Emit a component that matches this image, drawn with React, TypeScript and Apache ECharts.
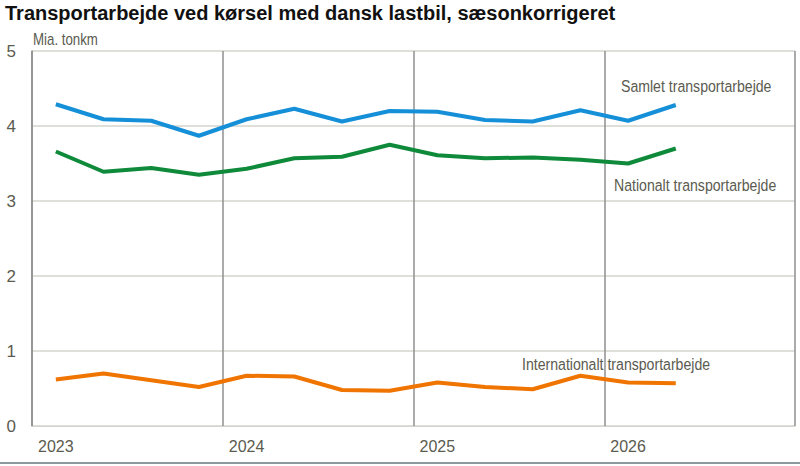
import React, { useRef, useEffect } from "react";
import * as echarts from "echarts";

const quarters = [
  "2023K1", "2023K2", "2023K3", "2023K4",
  "2024K1", "2024K2", "2024K3", "2024K4",
  "2025K1", "2025K2", "2025K3", "2025K4",
  "2026K1", "2026K2", "2026K3", "2026K4",
];
const samlet = [4.29, 4.09, 4.07, 3.87, 4.09, 4.23, 4.06, 4.2, 4.19, 4.08, 4.06, 4.21, 4.07, 4.28];
const nationalt = [3.66, 3.39, 3.44, 3.35, 3.43, 3.57, 3.59, 3.75, 3.61, 3.57, 3.58, 3.55, 3.5, 3.7];
const internationalt = [0.62, 0.7, 0.61, 0.52, 0.67, 0.66, 0.48, 0.47, 0.58, 0.52, 0.49, 0.67, 0.58, 0.57];
const seriesNames = ["Samlet transportarbejde", "Nationalt transportarbejde", "Internationalt transportarbejde"];
const colors = ["#1590d8", "#0e8a3a", "#f07400"];

const sans = "'Liberation Sans', Arial, sans-serif";
const textGray = "#5b5b50";

// narrow-looking text label (reference uses a condensed face)
const label = (text: string, x: number, y: number, size = 17) => ({
  type: "text",
  x,
  y,
  scaleX: 0.83,
  style: { text, font: `${size}px ${sans}`, fill: textGray, verticalAlign: "middle" },
});

const App = function () {
  const chart = useRef(null);
  useEffect(() => {
    document.body.style.margin = "0";
    if (!chart.current) return;
    const myChart = echarts.init(chart.current as any, null, { renderer: "svg" });
    const option = {
      animation: false,
      backgroundColor: "#fff",
      grid: { left: 32, right: 5, top: 51, bottom: 40 },
      xAxis: {
        type: "category",
        data: quarters,
        boundaryGap: true,
        axisLine: { lineStyle: { color: "#d4d4cc" } },
        axisTick: { show: false },
        axisLabel: {
          interval: (i: number) => i % 4 === 0,
          formatter: (v: string) => v.slice(0, 4),
          color: textGray,
          fontFamily: sans,
          fontSize: 16,
          margin: 12,
        },
        splitLine: {
          show: true,
          interval: (i: number) => i % 4 === 0,
          lineStyle: { color: "#8f8f8f", width: 1.5 },
        },
      },
      yAxis: {
        type: "value",
        min: 0,
        max: 5,
        interval: 1,
        axisLine: { show: true, lineStyle: { color: "#8f8f8f", width: 1.5 } },
        axisTick: { show: false },
        axisLabel: { color: textGray, fontFamily: sans, fontSize: 17, margin: 16 },
        splitLine: { lineStyle: { color: "#d4d4cc", width: 1.5 } },
      },
      series: [samlet, nationalt, internationalt].map((d, i) => ({
        name: seriesNames[i],
        type: "line",
        data: d,
        symbol: "none",
        lineStyle: { color: colors[i], width: 4 },
      })),
      graphic: [
        {
          type: "text",
          x: 5,
          y: 13,
          style: {
            text: "Transportarbejde ved kørsel med dansk lastbil, sæsonkorrigeret",
            font: `bold 20px ${sans}`,
            fill: "#111",
            verticalAlign: "middle",
          },
        },
        label("Mia. tonkm", 33, 40, 16),
        label(seriesNames[0], 621, 86),
        label(seriesNames[1], 614, 185),
        label(seriesNames[2], 522, 364),
        {
          type: "line",
          shape: { x1: 0, y1: 463, x2: 800, y2: 463 },
          style: { stroke: "#8a9a9e", lineWidth: 2 },
        },
      ],
    };
    myChart.setOption(option);
    return () => {
      myChart.dispose();
    };
  }, []);
  return <div ref={chart} style={{ width: 800, height: 466 }}></div>;
};
export default App;
